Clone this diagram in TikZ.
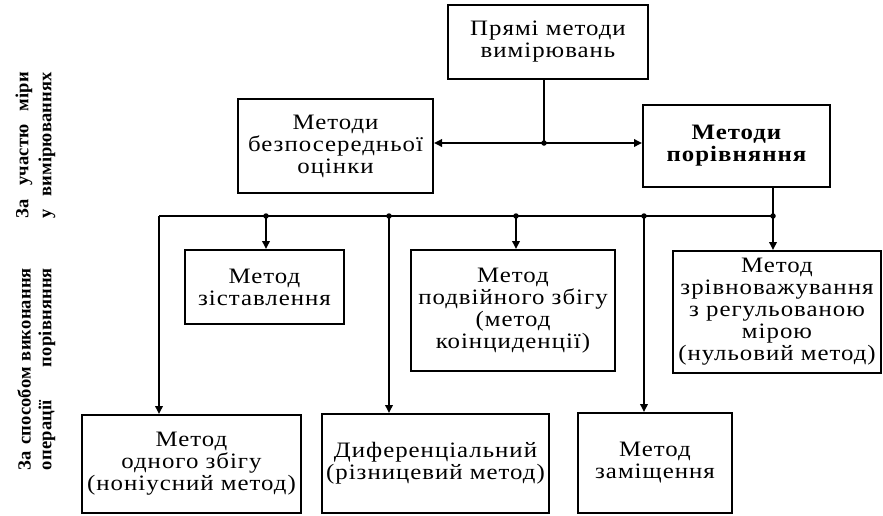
\documentclass[tikz,border=0pt]{standalone}
\usepackage{fontspec}
\setmainfont{Liberation Serif}[LetterSpace=4.5,FakeStretch=1.13]
\newfontfamily\sidefont{Liberation Serif}[LetterSpace=1]
\usetikzlibrary{arrows.meta}
\begin{document}
\begin{tikzpicture}[x=1pt,y=-1pt,
  font=\fontsize{22}{22}\selectfont,
  box/.style={draw, line width=2pt, align=center, inner sep=0pt},
  ln/.style={line width=1.8pt},
  arr/.style={line width=1.8pt, -{Triangle[length=8pt,width=7.5pt]}},
  dot/.style={circle, fill, inner sep=0pt, minimum size=5.5pt},
  side/.style={rotate=90, font=\sidefont\bfseries\fontsize{18.5}{19}\selectfont, inner sep=0pt}]
\useasboundingbox (0,0) rectangle (883,515);

% boxes
\node[box, minimum width=200pt, minimum height=74pt] (top) at (548,42) {Прямі методи\\вимірювань};
\node[box, minimum width=195pt, minimum height=94pt] (bez) at (335.5,146) {Методи\\безпосередньої\\оцінки};
\node[box, minimum width=187pt, minimum height=82pt, font=\bfseries\fontsize{22}{22}\selectfont] (por) at (736.5,146) {Методи\\порівняння};
\node[box, minimum width=159pt, minimum height=74pt] (zist) at (264.5,287) {Метод\\зіставлення};
\node[box, minimum width=204pt, minimum height=121pt] (podv) at (513,310.5) {Метод\\подвійного збігу\\(метод\\коінциденції)};
\node[box, minimum width=208pt, minimum height=122pt] (zriv) at (777,312) {Метод\\зрівноважування\\з регульованою\\мірою\\(нульовий метод)};
\node[box, minimum width=219pt, minimum height=98pt] (odn) at (191.5,464) {Метод\\одного збігу\\(ноніусний метод)};
\node[box, minimum width=227pt, minimum height=99pt] (dyf) at (435.5,463.5) {Диференціальний\\(різницевий метод)};
\node[box, minimum width=154pt, minimum height=100pt] (zam) at (655,463) {Метод\\заміщення};

% side labels
\node[side] (s1a) at (24,145) {\makebox[146pt][s]{За участю міри}};
\node[side] (s1b) at (47,145) {\makebox[146pt][s]{у вимірюваннях}};
\node[side] (s2a) at (24,369) {\makebox[202pt][s]{За способом виконання}};
\node[side] (s2b) at (47,369) {\makebox[202pt][s]{операції порівняння}};

% connectors
\coordinate (j1) at (544,143);
\draw[ln] (top.south -| j1) -- (j1);
\draw[arr] (j1) -- (j1 -| bez.east);
\draw[arr] (j1) -- (j1 -| por.west);
\node[dot] (d1) at (j1) {};

\coordinate (j2) at (773,216);
\coordinate (b0) at (159,216);
\coordinate (b1) at (266,216);
\coordinate (b2) at (389,216);
\coordinate (b3) at (516,216);
\coordinate (b4) at (644,216);
\draw[ln] (por.south -| j2) -- (j2);
\draw[ln] (j2) -- (b0);
\draw[arr] (j2) -- (j2 |- zriv.north);
\draw[arr] (b0) -- (b0 |- odn.north);
\draw[arr] (b1) -- (b1 |- zist.north);
\draw[arr] (b2) -- (b2 |- dyf.north);
\draw[arr] (b3) -- (b3 |- podv.north);
\draw[arr] (b4) -- (b4 |- zam.north);
\foreach \p in {j2,b1,b2,b3,b4} \node[dot] at (\p) {};
\end{tikzpicture}
\end{document}
